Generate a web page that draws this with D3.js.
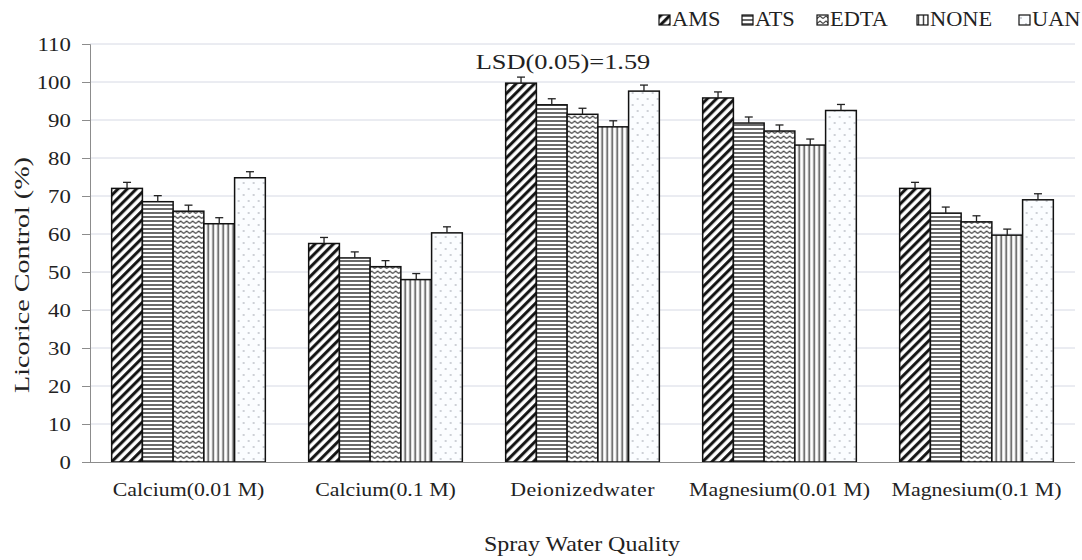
<!DOCTYPE html>
<html>
<head>
<meta charset="utf-8">
<script src="https://cdn.jsdelivr.net/npm/d3@7"></script>
<style>
  html, body { margin: 0; padding: 0; background: #fff; }
  svg { display: block; font-family: "Liberation Serif", "Times New Roman", serif; }
</style>
</head>
<body>
<svg id="chart" width="1082" height="560"></svg>
<script>
// Spray water quality treatments (x-axis groups)
const categories = ["Calcium(0.01 M)", "Calcium(0.1 M)", "Deionizedwater", "Magnesium(0.01 M)", "Magnesium(0.1 M)"];
// Adjuvant series
const seriesNames = ["AMS", "ATS", "EDTA", "NONE", "UAN"];
// Licorice control (%) per adjuvant, in category order
const amsValues  = [72, 57.5, 99.7, 95.8, 72];
const atsValues  = [68.5, 53.7, 94, 89.2, 65.5];
const edtaValues = [66, 51.4, 91.5, 87.1, 63.2];
const noneValues = [62.7, 48, 88.2, 83.4, 59.7];
const uanValues  = [74.8, 60.3, 97.6, 92.5, 69];
// Error bar half-length (LSD)
const lsd = 1.59;
const yTicks = [0, 10, 20, 30, 40, 50, 60, 70, 80, 90, 100, 110];

const seriesValues = [amsValues, atsValues, edtaValues, noneValues, uanValues];
const data = categories.map((c, i) => ({
  category: c,
  values: seriesNames.map((s, j) => ({ series: s, value: seriesValues[j][i] }))
}));

const svg = d3.select("#chart");
const plotLeft = 90, plotRight = 1075, plotTop = 44, plotBottom = 462;
const textColor = "#222";
// Text in this figure is set a little wide
const wide = 1.2;

const y = d3.scaleLinear().domain([0, 110]).range([plotBottom, plotTop]);
const x0 = d3.scaleBand().domain(categories).range([plotLeft, plotRight]).paddingInner(0.22).paddingOuter(0.11);
const x1 = d3.scaleBand().domain(seriesNames).range([0, x0.bandwidth()]).padding(0);

// Fill patterns
const defs = svg.append("defs");
// AMS: bold diagonal stripes
const pAms = defs.append("pattern").attr("id", "p-AMS").attr("patternUnits", "userSpaceOnUse")
  .attr("width", 6.5).attr("height", 6.5).attr("patternTransform", "rotate(45)");
pAms.append("rect").attr("width", 6.5).attr("height", 6.5).attr("fill", "#fff");
pAms.append("line").attr("x1", 1.6).attr("y1", 0).attr("x2", 1.6).attr("y2", 6.5)
  .attr("stroke", "#111").attr("stroke-width", 3);
// ATS: horizontal lines
const pAts = defs.append("pattern").attr("id", "p-ATS").attr("patternUnits", "userSpaceOnUse")
  .attr("width", 8).attr("height", 4);
pAts.append("rect").attr("width", 8).attr("height", 4).attr("fill", "#fff");
pAts.append("line").attr("x1", 0).attr("y1", 1).attr("x2", 8).attr("y2", 1)
  .attr("stroke", "#444").attr("stroke-width", 1.6);
// EDTA: zigzag waves
const pEdta = defs.append("pattern").attr("id", "p-EDTA").attr("patternUnits", "userSpaceOnUse")
  .attr("width", 6).attr("height", 5);
pEdta.append("rect").attr("width", 6).attr("height", 5).attr("fill", "#fff");
pEdta.append("path").attr("d", "M0,3.5 L3,1 L6,3.5").attr("fill", "none")
  .attr("stroke", "#4a4a4a").attr("stroke-width", 1.3);
// NONE: vertical lines
const pNone = defs.append("pattern").attr("id", "p-NONE").attr("patternUnits", "userSpaceOnUse")
  .attr("width", 5).attr("height", 8);
pNone.append("rect").attr("width", 5).attr("height", 8).attr("fill", "#fff");
pNone.append("line").attr("x1", 1.5).attr("y1", 0).attr("x2", 1.5).attr("y2", 8)
  .attr("stroke", "#444").attr("stroke-width", 1.5);
// UAN: sparse dots
const pUan = defs.append("pattern").attr("id", "p-UAN").attr("patternUnits", "userSpaceOnUse")
  .attr("width", 10).attr("height", 12);
pUan.append("rect").attr("width", 10).attr("height", 12).attr("fill", "#fbfdff");
pUan.append("circle").attr("cx", 2).attr("cy", 3).attr("r", 0.9).attr("fill", "#b8bcc4");
pUan.append("circle").attr("cx", 7).attr("cy", 9).attr("r", 0.9).attr("fill", "#b8bcc4");

// Horizontal gridlines
svg.append("g").selectAll("line").data(yTicks.filter(t => t > 0)).join("line")
  .attr("x1", plotLeft).attr("x2", plotRight)
  .attr("y1", d => y(d)).attr("y2", d => y(d))
  .attr("stroke", "#d6d9e4").attr("stroke-width", 1);

// Y axis
const yAxis = svg.append("g").attr("transform", `translate(${plotLeft},0)`)
  .call(d3.axisLeft(y).tickValues(yTicks).tickSize(8).tickPadding(8));
yAxis.select(".domain").attr("stroke", "#8c8c8c");
yAxis.selectAll(".tick line").attr("stroke", "#8c8c8c");
yAxis.selectAll(".tick text").attr("font-size", 19).attr("fill", textColor)
  .attr("font-family", "Liberation Serif, serif")
  .attr("transform", `scale(${wide},1)`);

// Bars
const groups = svg.append("g").selectAll("g").data(data).join("g")
  .attr("transform", d => `translate(${x0(d.category)},0)`);

groups.selectAll("rect").data(d => d.values).join("rect")
  .attr("x", d => x1(d.series))
  .attr("y", d => y(d.value))
  .attr("width", x1.bandwidth())
  .attr("height", d => y(0) - y(d.value))
  .attr("fill", d => `url(#p-${d.series})`)
  .attr("stroke", "#111").attr("stroke-width", 1.5);

// Error bars (upper)
groups.selectAll("g.err").data(d => d.values).join("g").attr("class", "err")
  .each(function(d) {
    const g = d3.select(this);
    const cx = x1(d.series) + x1.bandwidth() / 2;
    g.append("line").attr("x1", cx).attr("x2", cx)
      .attr("y1", y(d.value)).attr("y2", y(d.value + lsd))
      .attr("stroke", "#222").attr("stroke-width", 1.3);
    g.append("line").attr("x1", cx - 4).attr("x2", cx + 4)
      .attr("y1", y(d.value + lsd)).attr("y2", y(d.value + lsd))
      .attr("stroke", "#222").attr("stroke-width", 1.3);
  });

// X axis line
svg.append("line").attr("x1", plotLeft).attr("x2", plotRight)
  .attr("y1", plotBottom + 0.5).attr("y2", plotBottom + 0.5)
  .attr("stroke", "#8c8c8c").attr("stroke-width", 1);

// Category labels
svg.append("g").selectAll("text").data(categories).join("text")
  .attr("transform", d => `translate(${x0(d) + x0.bandwidth() / 2},496) scale(1.15,1)`)
  .attr("text-anchor", "middle")
  .attr("font-size", 19).attr("fill", textColor)
  .attr("letter-spacing", d => d === "Deionizedwater" ? 0.4 : 0)
  .text(d => d);

// Axis titles
svg.append("text")
  .attr("transform", `translate(29,275) rotate(-90)`)
  .attr("text-anchor", "middle").attr("font-size", 21).attr("fill", textColor)
  .attr("textLength", 236).attr("lengthAdjust", "spacingAndGlyphs")
  .text("Licorice Control (%)");
svg.append("text")
  .attr("transform", `translate(582,551) scale(${wide},1)`)
  .attr("text-anchor", "middle")
  .attr("font-size", 20).attr("fill", textColor)
  .text("Spray Water Quality");

// LSD annotation
svg.append("text")
  .attr("transform", `translate(563,69) scale(${wide},1)`)
  .attr("text-anchor", "middle")
  .attr("font-size", 22).attr("fill", textColor)
  .text("LSD(0.05)=1.59");

// Legend
const legendX = [659, 742, 817, 917, 1019];
const legend = svg.append("g").selectAll("g").data(seriesNames).join("g")
  .attr("transform", (d, i) => `translate(${legendX[i]},15)`);
legend.append("rect").attr("x", 0).attr("y", 0).attr("width", 11).attr("height", 10)
  .attr("fill", d => `url(#p-${d})`).attr("stroke", "#111").attr("stroke-width", 1.2);
legend.append("text")
  .attr("transform", `translate(13,11) scale(1.12,1)`)
  .attr("font-size", 20).attr("fill", textColor).text(d => d);
</script>
</body>
</html>
